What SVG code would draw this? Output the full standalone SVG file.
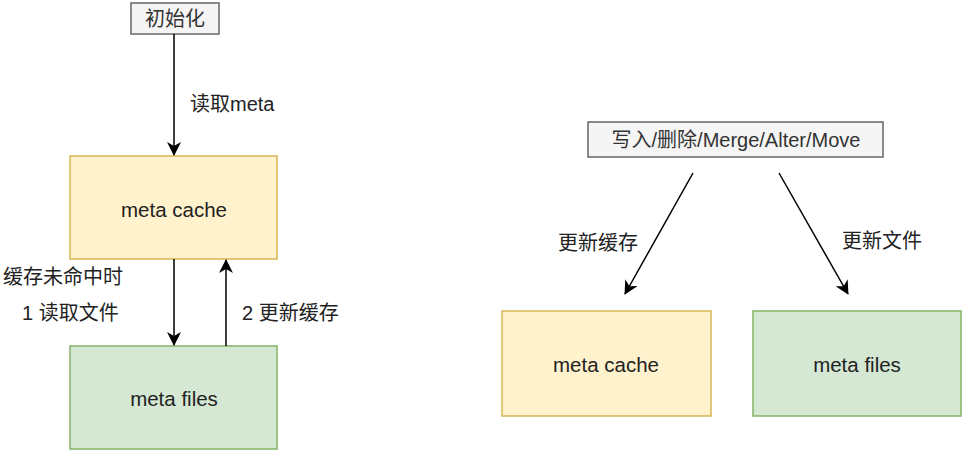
<svg xmlns="http://www.w3.org/2000/svg" width="962" height="451" viewBox="0 0 962 451">
<style>
text{font-family:"Liberation Sans","Noto Sans CJK SC",sans-serif;font-size:20px;fill:#222;dominant-baseline:central}
.c{text-anchor:middle}
.b{font-size:20.5px}
.y{fill:#fff2cc;stroke:#d6b656;stroke-width:1.5}
.g{fill:#d5e8d4;stroke:#82b366;stroke-width:1.5}
.s{fill:#f5f5f5;stroke:#666666;stroke-width:1.5}
.s+text{fill:#333}
.e{stroke:#000;stroke-width:1.5;fill:none;marker-end:url(#a)}
</style>
<defs>
<marker id="a" markerUnits="userSpaceOnUse" markerWidth="14" markerHeight="14" viewBox="0 0 14 14" refX="13" refY="7" orient="auto">
<path d="M0,0 L14,7 L0,14 L4,7 Z" fill="#000"/>
</marker>
</defs>
<rect width="962" height="451" fill="#fff"/>
<g id="init"><rect class="s" x="131" y="3" width="88" height="31"/><text class="c" x="175" y="19">初始化</text></g>
<g id="cache1"><rect class="y" x="70" y="156" width="207" height="103"/><text class="c b" x="174" y="209">meta cache</text></g>
<g id="files1"><rect class="g" x="70" y="346" width="207" height="103"/><text class="c b" x="174" y="398">meta files</text></g>
<g id="ops"><rect class="s" x="588" y="122" width="295" height="35"/><text class="c" x="736" y="140">写入/删除/Merge/Alter/Move</text></g>
<g id="cache2"><rect class="y" x="502" y="311" width="209" height="105"/><text class="c b" x="606" y="364">meta cache</text></g>
<g id="files2"><rect class="g" x="753" y="311" width="208" height="105"/><text class="c b" x="857" y="364">meta files</text></g>
<g id="connectors">
<path class="e" d="M174,34 L174,155"/>
<path class="e" d="M174,259 L174,345"/>
<path class="e" d="M226,346 L226,260"/>
<path class="e" d="M693,173 L625,294"/>
<path class="e" d="M779,173 L848,294"/>
<text x="190" y="104">读取meta</text>
<text x="3" y="277">缓存未命中时</text>
<text x="22" y="313">1 读取文件</text>
<text x="242" y="313">2 更新缓存</text>
<text x="558" y="243">更新缓存</text>
<text x="842" y="241">更新文件</text>
</g>
</svg>
